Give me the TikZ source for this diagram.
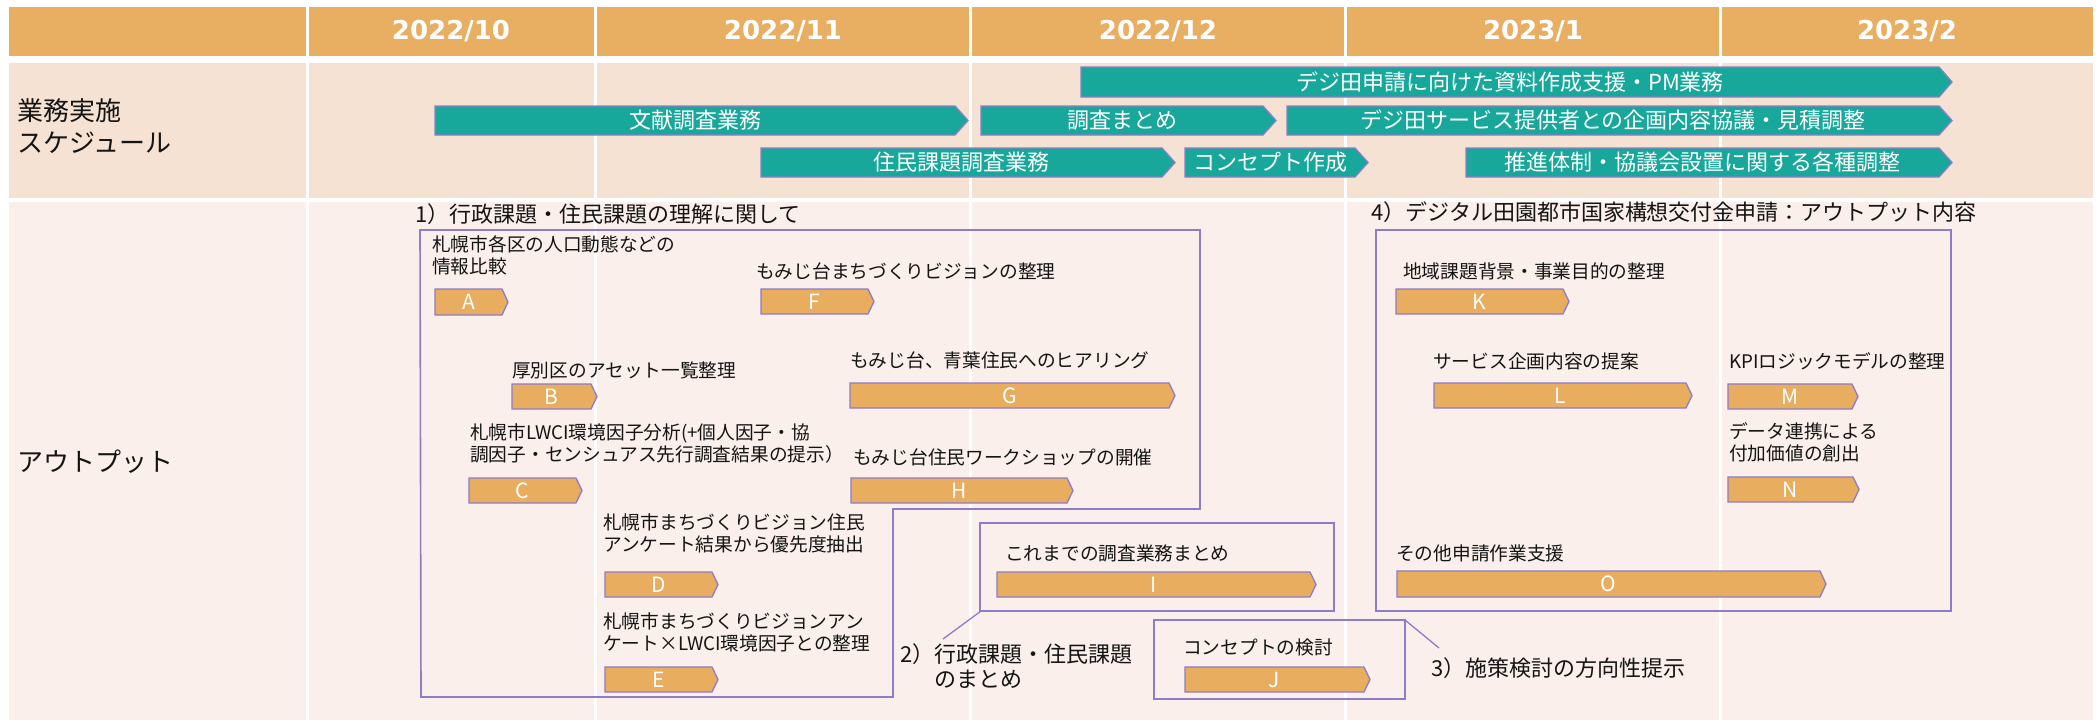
\documentclass[tikz,border=0pt]{standalone}
\usepackage{fontspec}
\setmainfont{Noto Sans CJK JP}
\newfontfamily\hdrfont{DejaVu Sans}
\definecolor{hdr}{HTML}{E8AE61}
\definecolor{sched}{HTML}{F5E2D3}
\definecolor{outp}{HTML}{FAEFEA}
\definecolor{tealc}{HTML}{17A89B}
\definecolor{orng}{HTML}{E8AD5F}
\definecolor{barline}{HTML}{8C7DC6}
\definecolor{txt}{HTML}{141414}
\tikzset{
  lbl/.style={anchor=west, inner sep=0pt, font=\fontsize{18.7}{22}\selectfont, text=txt, align=left},
  sec/.style={anchor=west, inner sep=0pt, font=\fontsize{22}{25}\selectfont, text=txt, align=left},
  hdrtext/.style={inner sep=0pt, text=white, font=\hdrfont\bfseries\fontsize{26}{30}\selectfont},
  rowlbl/.style={anchor=west, inner sep=0pt, font=\fontsize{26}{32}\selectfont, text=txt, align=left},
  tbtext/.style={inner sep=0pt, text=white, font=\fontsize{22}{24}\selectfont},
  obtext/.style={inner sep=0pt, text=white, font=\fontsize{21}{24}\selectfont},
  tbarshape/.style={fill=tealc, draw=barline, line width=1.3pt, line join=miter},
  obarshape/.style={fill=orng, draw=barline, line width=1.3pt, line join=miter},
  boxline/.style={draw=barline, line width=1.6pt},
  divider/.style={draw=white, line width=3pt},
}
% #1 name, #2 x left, #3 x tip, #4 y top, #5 y bottom, #6 text
\newcommand\tealbar[6]{%
  \draw[tbarshape] (#2,#4) -- ({#3-13},#4) -- (#3,{(#4+#5)/2}) -- ({#3-13},#5) -- (#2,#5) -- cycle;
  \node[tbtext] (#1) at ({(#2+#3-13)/2},{(#4+#5)/2}) {#6};}
\newcommand\orbar[6]{%
  \draw[obarshape] (#2,#4) -- ({#3-6},#4) -- (#3,{(#4+#5)/2}) -- ({#3-6},#5) -- (#2,#5) -- cycle;
  \node[obtext] (#1) at ({(#2+#3-6)/2},{(#4+#5)/2}) {#6};}
\begin{document}
\begin{tikzpicture}[x=1pt,y=-1pt]
\useasboundingbox (0,0) rectangle (2098,724);
\fill[white] (0,0) rectangle (2098,724);
% rows
\fill[hdr] (9,7) rectangle (2093,56);
\fill[sched] (9,63) rectangle (2093,198);
\fill[outp] (9,202) rectangle (2093,720);
\foreach \xx in {307.5,595.5,970.5,1345.5,1720.5} \draw[divider] (\xx,7) -- (\xx,720);
% header
\node[hdrtext] (h1) at (451,31.5) {2022/10};
\node[hdrtext] (h2) at (783,31.5) {2022/11};
\node[hdrtext] (h3) at (1158,31.5) {2022/12};
\node[hdrtext] (h4) at (1533,31.5) {2023/1};
\node[hdrtext] (h5) at (1907,31.5) {2023/2};
% row labels
\node[rowlbl] (rl1) at (17,126) {業務実施\\スケジュール};
\node[rowlbl] (rl2) at (17,462) {アウトプット};
% schedule bars
\tealbar{s1}{1081}{1952}{67}{97}{デジ田申請に向けた資料作成支援・PM業務}
\tealbar{s2}{435}{968}{106}{135}{文献調査業務}
\tealbar{s3}{981}{1276}{106}{135}{調査まとめ}
\tealbar{s4}{1287}{1952}{106}{135}{デジ田サービス提供者との企画内容協議・見積調整}
\tealbar{s5}{761}{1175}{148}{177}{住民課題調査業務}
\tealbar{s6}{1185}{1368}{148}{177}{コンセプト作成}
\tealbar{s7}{1466}{1952}{148}{177}{推進体制・協議会設置に関する各種調整}
% boxes
\draw[boxline] (420,230) -- (1200,230) -- (1200,509) -- (893,509) -- (893,697) -- (421,697) -- cycle;
\draw[boxline] (980,523) rectangle (1334,611);
\draw[boxline] (1154,620) rectangle (1405,699);
\draw[boxline] (1376,230) rectangle (1951,611);
\coordinate (b2c) at (981,611);
\coordinate (b3c) at (1405,620);
% section titles
\node[sec] (t1) at (415,214) {1）行政課題・住民課題の理解に関して};
\node[sec] (t4) at (1371,212) {4）デジタル田園都市国家構想交付金申請：アウトプット内容};
\node[sec] (t2) at (900,667) {2）行政課題・住民課題\\\phantom{2）}のまとめ};
\node[sec] (t3) at (1431,668) {3）施策検討の方向性提示};
\draw[barline, line width=1.3pt] (b2c) -- (943,639);
\draw[barline, line width=1.3pt] (b3c) -- (1439,648);
% labels
\node[lbl] (lA) at (432,255) {札幌市各区の人口動態などの\\情報比較};
\node[lbl] (lB) at (512,370) {厚別区のアセット一覧整理};
\node[lbl] (lC) at (470,443.5) {札幌市LWCI環境因子分析(+個人因子・協\\調因子・センシュアス先行調査結果の提示）};
\node[lbl] (lD) at (603,533.5) {札幌市まちづくりビジョン住民\\アンケート結果から優先度抽出};
\node[lbl] (lE) at (603,632) {札幌市まちづくりビジョンアン\\ケート×LWCI環境因子との整理};
\node[lbl] (lF) at (756,271) {もみじ台まちづくりビジョンの整理};
\node[lbl] (lG) at (850,360) {もみじ台、青葉住民へのヒアリング};
\node[lbl] (lH) at (853,457) {もみじ台住民ワークショップの開催};
\node[lbl] (lI) at (1005,553) {これまでの調査業務まとめ};
\node[lbl] (lJ) at (1183,647) {コンセプトの検討};
\node[lbl] (lK) at (1403,271) {地域課題背景・事業目的の整理};
\node[lbl] (lL) at (1433,361) {サービス企画内容の提案};
\node[lbl] (lM) at (1729,361) {KPIロジックモデルの整理};
\node[lbl] (lN) at (1729,442.5) {データ連携による\\付加価値の創出};
\node[lbl] (lO) at (1396,553) {その他申請作業支援};
% output bars
\orbar{A}{435}{508}{289}{315}{A}
\orbar{B}{512}{597}{384}{409}{B}
\orbar{C}{469}{582}{478}{503}{C}
\orbar{D}{605}{718}{572}{597}{D}
\orbar{E}{605}{718}{667}{692}{E}
\orbar{F}{761}{874}{289}{314}{F}
\orbar{G}{850}{1175}{383}{408}{G}
\orbar{H}{851}{1073}{478}{503}{H}
\orbar{I}{997}{1316}{572}{597}{I}
\orbar{J}{1185}{1370}{667}{692}{J}
\orbar{K}{1396}{1569}{289}{314}{K}
\orbar{L}{1434}{1692}{383}{408}{L}
\orbar{M}{1728}{1858}{384}{409}{M}
\orbar{N}{1728}{1859}{477}{502}{N}
\orbar{O}{1397}{1826}{571}{597}{O}
\end{tikzpicture}
\end{document}
